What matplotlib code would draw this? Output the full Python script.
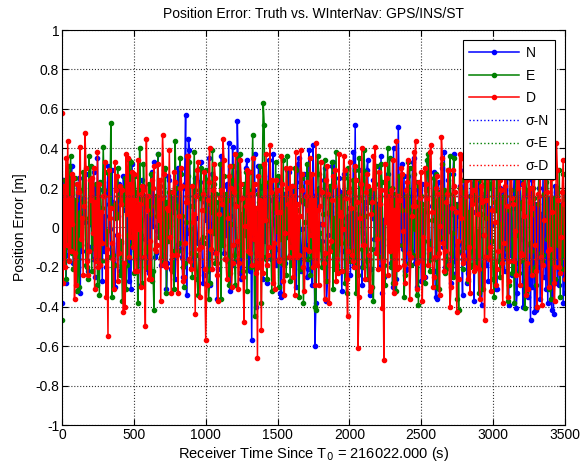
import matplotlib
matplotlib.use("Agg")
import matplotlib.pyplot as plt
import numpy as np

plt.rcParams['font.family'] = ['Liberation Sans', 'DejaVu Sans']

t_step = 20
# samples at t = 0, 20, 40, ...
err_N = [-0.38, 0.12, -0.05, 0.21, -0.18, 0.08, 0.25, -0.12, 0.03, -0.22, 0.15, 0.28, -0.08, 0.19, -0.27, 0.06, 0.31, -0.15, 0.11, -0.04,
         0.22, -0.19, 0.09, 0.27, -0.31, 0.05, 0.17, -0.11, 0.24, -0.06, 0.13, -0.24, 0.33, -0.02, 0.18, -0.14, 0.07, 0.26, -0.21, 0.10,
         -0.09, 0.29, -0.25, 0.57, 0.45, -0.17, 0.14, -0.07, 0.23, -0.28, 0.04, 0.35, -0.13, 0.16, -0.36, 0.09, 0.21, -0.04, 0.43, -0.19,
         0.12, 0.54, -0.23, 0.06, 0.30, -0.15, -0.57, 0.37, -0.08, 0.20, -0.26, 0.11, 0.34, -0.12, 0.02, 0.25, -0.33, 0.15, -0.05, 0.28,
         -0.18, 0.08, 0.32, -0.22, 0.13, -0.09, 0.39, -0.29, -0.60, 0.17, -0.11, 0.24, -0.37, 0.07, 0.31, -0.16, 0.19, -0.03, 0.27, -0.24,
         0.10, -0.14, 0.52, -0.20, 0.15, -0.07, 0.29, -0.34, 0.05, 0.22, -0.12, 0.36, -0.25, 0.09, 0.18, -0.30, 0.12, 0.51, -0.09, 0.26,
         -0.21, 0.04, 0.33, -0.15, 0.19, -0.27, 0.08, 0.30, -0.10, 0.14, -0.35, 0.23, -0.06, 0.38, -0.18, 0.11, 0.27, -0.23, 0.06, -0.13,
         0.29, -0.28, 0.16, 0.08, -0.17, 0.34, -0.39, 0.12, 0.21, -0.08, 0.25, -0.31, 0.03, 0.19, -0.22, 0.36, -0.14, 0.10, -0.41, 0.23,
         -0.06, 0.28, -0.35, -0.47, 0.15, -0.42, 0.20, -0.11, 0.31, -0.38, 0.07, -0.44, 0.18, -0.29, 0.12, -0.33]
err_E = [-0.47, 0.24, -0.10, 0.36, -0.21, 0.14, -0.30, 0.19, 0.05, -0.26, 0.31, -0.08, 0.22, -0.34, 0.10, 0.28, -0.15, 0.53, -0.19, 0.07,
         0.16, -0.37, 0.25, -0.04, 0.33, -0.23, 0.09, 0.40, -0.28, 0.13, -0.12, 0.27, -0.42, 0.06, 0.21, -0.17, 0.30, -0.07, 0.18, -0.31,
         0.11, 0.35, -0.20, 0.03, 0.26, -0.13, 0.38, -0.26, 0.15, -0.05, 0.29, -0.36, 0.08, 0.22, -0.18, 0.32, -0.09, 0.17, -0.29, 0.24,
         -0.14, 0.12, 0.37, -0.22, 0.28, -0.11, 0.19, -0.45, 0.07, 0.31, 0.63, -0.16, 0.23, -0.32, 0.10, 0.26, -0.06, 0.34, -0.24, 0.14,
         -0.19, 0.30, -0.03, 0.21, -0.38, 0.12, 0.27, -0.15, -0.40, 0.36, -0.10, 0.18, -0.27, 0.08, 0.33, -0.21, 0.15, -0.08, 0.25, -0.33,
         0.20, -0.12, 0.29, -0.24, 0.06, 0.39, -0.17, 0.13, -0.30, 0.22, -0.05, 0.32, -0.19, 0.10, 0.35, -0.28, 0.17, -0.09, 0.26, -0.35,
         0.09, 0.30, -0.14, 0.23, -0.39, 0.16, -0.07, 0.34, -0.22, 0.12, 0.27, -0.31, 0.05, 0.19, -0.16, 0.36, -0.25, 0.11, -0.42, 0.24,
         -0.10, 0.31, -0.20, 0.14, 0.28, -0.33, 0.07, 0.22, -0.15, 0.38, -0.26, 0.09, 0.33, -0.18, 0.16, -0.37, 0.25, -0.06, 0.30, -0.23,
         0.13, -0.41, 0.27, -0.12, 0.20, -0.29, 0.34, -0.17, 0.08, 0.26, -0.36, 0.15, -0.08, 0.29, -0.21, 0.18]
err_D = [0.58, -0.20, 0.44, -0.12, 0.25, -0.29, 0.18, 0.05, 0.48, -0.24, 0.14, 0.30, -0.17, 0.22, -0.08, 0.33, -0.55, 0.10, -0.31, 0.26,
         -0.13, 0.19, -0.40, 0.35, -0.05, 0.27, -0.22, 0.12, 0.21, -0.50, 0.16, -0.26, 0.31, -0.09, 0.24, 0.47, -0.18, 0.09, -0.33, 0.28,
         -0.14, 0.20, -0.27, 0.13, 0.36, -0.21, 0.07, 0.29, -0.35, 0.17, -0.57, 0.23, -0.11, 0.32, -0.24, 0.15, 0.45, -0.16, 0.26, -0.30,
         0.18, -0.07, 0.34, -0.25, 0.11, 0.28, -0.19, 0.22, -0.66, 0.14, -0.23, 0.37, -0.10, 0.24, -0.31, 0.19, 0.08, -0.27, 0.30, -0.15,
         0.21, -0.34, 0.12, 0.39, -0.20, 0.16, -0.12, 0.27, -0.29, 0.09, 0.33, -0.18, 0.24, -0.38, 0.14, 0.29, -0.23, 0.06, 0.36, -0.26,
         0.18, -0.14, 0.31, -0.61, 0.22, -0.09, 0.27, -0.32, 0.13, 0.41, -0.21, 0.19, -0.67, 0.25, -0.12, 0.34, -0.28, 0.16, 0.30, -0.19,
         0.23, -0.36, 0.11, 0.44, -0.17, 0.28, -0.25, 0.15, 0.38, -0.30, 0.20, -0.13, 0.46, -0.22, 0.17, -0.40, 0.29, 0.08, -0.26, 0.35,
         -0.16, 0.24, -0.33, 0.19, 0.42, -0.21, 0.13, -0.47, 0.31, -0.10, 0.26, -0.29, 0.40, -0.18, 0.21, -0.35, 0.33, 0.12, -0.24, 0.45,
         -0.14, 0.27, -0.31, 0.20, 0.38, -0.22, 0.16, -0.39, 0.30, -0.12, 0.25, -0.28, 0.43, -0.20, 0.18, -0.26]
# samples at t = 7, 27, 47, ...
err_N_b = [0.24, -0.28, 0.10, 0.31, -0.16, 0.22, -0.33, 0.14, 0.27, -0.10, 0.19, -0.25, 0.35, -0.07, 0.23, -0.20, 0.12, 0.29, -0.30, 0.16,
           -0.22, 0.26, 0.09, -0.27, 0.32, -0.12, 0.18, -0.29, 0.21, 0.06, -0.23, 0.28, -0.15, 0.37, -0.19, 0.13, -0.31, 0.24, 0.08, -0.26,
           0.30, -0.11, 0.20, -0.34, 0.39, -0.18, 0.25, -0.08, 0.33, -0.24, 0.15, -0.29, 0.27, 0.04, -0.21, 0.36, -0.13, 0.22, -0.32, 0.41,
           -0.17, 0.28, -0.26, 0.10, 0.34, -0.22, 0.19, -0.40, 0.31, -0.09, 0.26, -0.28, 0.14, 0.37, -0.19, 0.23, -0.35, 0.17, 0.29, -0.14,
           0.21, -0.30, 0.35, -0.12, 0.27, -0.25, 0.16, 0.42, -0.38, 0.20, -0.07, 0.30, -0.27, 0.12, 0.33, -0.20, 0.25, -0.32, 0.18, 0.06,
           -0.24, 0.38, -0.16, 0.29, -0.29, 0.13, 0.34, -0.21, 0.24, -0.11, 0.31, -0.33, 0.19, 0.27, -0.18, 0.40, -0.26, 0.15, 0.32, -0.22,
           0.26, -0.12, 0.35, -0.30, 0.17, 0.22, -0.25, 0.33, -0.15, 0.28, -0.36, 0.11, 0.30, -0.20, 0.24, -0.28, 0.37, -0.09, 0.21, -0.34,
           0.18, -0.23, 0.29, -0.37, 0.14, 0.32, -0.19, 0.25, -0.27, 0.09, 0.35, -0.31, 0.20, -0.16, 0.27, -0.39, 0.13, 0.30, -0.33, 0.22,
           -0.40, 0.17, -0.29, 0.24, -0.43, 0.10, -0.36, 0.26, -0.31, 0.15, -0.42, 0.21, -0.27, 0.08, -0.38]
err_E_b = [0.19, -0.26, 0.31, -0.13, 0.25, -0.32, 0.08, 0.28, -0.19, 0.36, -0.22, 0.14, -0.29, 0.23, 0.41, -0.17, 0.27, -0.35, 0.12, 0.30,
           -0.24, 0.20, -0.31, 0.34, -0.09, 0.26, -0.38, 0.15, 0.32, -0.20, 0.22, -0.27, 0.11, 0.37, -0.15, 0.29, -0.33, 0.18, -0.22, 0.44,
           -0.12, 0.27, -0.30, 0.21, 0.33, -0.25, 0.16, -0.34, 0.30, -0.08, 0.24, -0.28, 0.39, -0.18, 0.13, -0.36, 0.26, 0.07, -0.23, 0.31,
           -0.29, 0.35, -0.14, 0.22, -0.32, 0.28, 0.47, -0.21, 0.17, -0.38, 0.52, -0.26, 0.19, -0.11, 0.33, -0.30, 0.23, -0.19, 0.36, -0.27,
           0.14, 0.29, -0.35, 0.25, -0.16, 0.32, -0.24, 0.10, -0.42, 0.27, -0.20, 0.34, -0.13, 0.21, -0.31, 0.38, -0.22, 0.16, -0.28, 0.30,
           -0.17, 0.24, -0.33, 0.35, -0.11, 0.28, -0.26, 0.19, -0.37, 0.31, -0.15, 0.23, -0.29, 0.40, -0.20, 0.14, -0.32, 0.26, 0.09, -0.24,
           0.33, -0.19, 0.27, -0.34, 0.21, 0.12, -0.28, 0.37, -0.16, 0.25, -0.30, 0.18, 0.32, -0.23, 0.29, -0.13, 0.35, -0.36, 0.20, -0.21,
           0.28, -0.27, 0.16, 0.39, -0.18, 0.24, -0.31, 0.30, -0.10, 0.22, -0.35, 0.34, -0.25, 0.13, 0.27, -0.29, 0.19, -0.38, 0.31, -0.17,
           0.25, -0.33, 0.36, -0.22, 0.15, -0.40, 0.29, -0.14, 0.23, -0.31, 0.33, -0.26, 0.20, -0.35, 0.27]
err_D_b = [-0.28, 0.35, -0.17, 0.27, -0.36, 0.22, 0.41, -0.24, 0.30, -0.12, 0.25, -0.31, 0.38, -0.19, 0.16, -0.35, 0.29, -0.08, 0.33, -0.27,
           0.21, -0.43, 0.37, -0.15, 0.28, -0.22, 0.34, -0.30, 0.19, 0.45, -0.26, 0.24, -0.11, 0.32, -0.37, 0.27, -0.20, 0.39, -0.14, 0.23,
           -0.33, 0.30, -0.25, 0.36, -0.16, 0.21, -0.44, 0.33, -0.10, 0.28, -0.29, 0.40, -0.21, 0.25, -0.37, 0.19, 0.34, -0.26, 0.31, -0.18,
           0.37, -0.31, 0.22, -0.48, 0.29, -0.13, 0.35, -0.23, 0.26, -0.52, 0.32, -0.19, 0.42, -0.28, 0.24, -0.16, 0.36, -0.34, 0.20, 0.30,
           -0.25, 0.38, -0.14, 0.27, -0.32, 0.23, 0.35, -0.20, 0.43, -0.29, 0.18, -0.36, 0.31, -0.12, 0.26, -0.27, 0.37, -0.22, 0.29, -0.45,
           0.33, -0.17, 0.24, -0.35, 0.40, -0.26, 0.21, -0.30, 0.36, -0.13, 0.28, -0.41, 0.32, -0.24, 0.19, -0.33, 0.44, -0.20, 0.27, -0.28,
           0.34, -0.15, 0.38, -0.31, 0.23, -0.37, 0.30, -0.19, 0.42, -0.25, 0.26, -0.34, 0.35, -0.12, 0.29, -0.30, 0.21, -0.43, 0.37, -0.18,
           0.31, -0.26, 0.40, -0.22, 0.25, -0.36, 0.33, -0.15, 0.28, -0.32, 0.44, -0.21, 0.24, -0.38, 0.35, -0.27, 0.30, -0.17, 0.39, -0.29,
           0.22, -0.34, 0.36, -0.24, 0.27, -0.40, 0.32, -0.19, 0.41, -0.30, 0.25, -0.37, 0.29, -0.23, 0.34]
# samples at t = 13, 33, 53, ...
err_N_c = [0.05, -0.14, 0.18, -0.02, 0.11, -0.20, 0.07, 0.15, -0.09, 0.02, -0.16, 0.21, -0.05, 0.09, -0.12, 0.17, -0.01, 0.13, -0.19, 0.06,
           -0.08, 0.14, -0.17, 0.03, 0.20, -0.11, 0.08, -0.04, 0.16, -0.21, 0.10, 0.01, -0.13, 0.19, -0.06, 0.12, -0.18, 0.04, 0.15, -0.10,
           0.07, -0.15, 0.22, -0.03, 0.11, -0.19, 0.05, 0.17, -0.08, 0.13, -0.22, 0.02, 0.18, -0.12, 0.09, -0.05, 0.16, -0.17, 0.06, 0.20,
           -0.09, 0.14, -0.02, 0.10, -0.20, 0.07, 0.19, -0.13, 0.03, 0.15, -0.07, 0.21, -0.16, 0.08, -0.11, 0.12, 0.04, -0.18, 0.17, -0.06,
           0.09, -0.14, 0.23, -0.01, 0.13, -0.21, 0.06, 0.16, -0.10, 0.02, -0.17, 0.19, -0.04, 0.11, -0.15, 0.08, 0.18, -0.12, 0.05, -0.08,
           0.14, -0.19, 0.07, 0.21, -0.03, 0.10, -0.16, 0.15, -0.06, 0.12, -0.20, 0.04, 0.17, -0.09, 0.13, -0.14, 0.01, 0.19, -0.11, 0.08,
           -0.05, 0.16, -0.18, 0.09, 0.03, -0.13, 0.20, -0.07, 0.11, -0.22, 0.06, 0.14, -0.10, 0.18, -0.02, 0.07, -0.17, 0.12, -0.08, 0.15,
           -0.15, 0.05, 0.22, -0.12, 0.09, -0.04, 0.17, -0.19, 0.10, 0.02, -0.21, 0.13, -0.06, 0.18, -0.14, 0.08, -0.24, 0.11, -0.18, 0.04,
           -0.27, 0.16, -0.09, -0.30, 0.12, -0.20, 0.07, -0.25, 0.14, -0.16, 0.03, -0.28, 0.10, -0.12, 0.06]
err_E_c = [-0.12, 0.10, -0.04, 0.17, -0.15, 0.06, -0.09, 0.13, -0.20, 0.03, 0.15, -0.11, 0.08, -0.17, 0.19, -0.02, 0.11, -0.14, 0.05, 0.16,
           -0.07, 0.12, -0.19, 0.09, -0.03, 0.18, -0.13, 0.04, 0.14, -0.10, 0.07, -0.22, 0.16, -0.05, 0.10, -0.16, 0.13, 0.01, -0.12, 0.20,
           -0.08, 0.06, -0.18, 0.15, -0.01, 0.11, -0.14, 0.19, -0.06, 0.09, -0.21, 0.12, -0.03, 0.17, -0.11, 0.05, -0.16, 0.14, 0.02, -0.09,
           0.18, -0.13, 0.07, -0.04, 0.16, -0.20, 0.10, -0.07, 0.13, 0.21, -0.15, 0.04, -0.10, 0.17, -0.02, 0.12, -0.18, 0.08, -0.05, 0.15,
           -0.12, 0.09, -0.21, 0.14, 0.03, -0.16, 0.11, -0.08, 0.19, -0.03, 0.07, -0.14, 0.16, -0.10, 0.05, -0.19, 0.13, 0.01, -0.07, 0.18,
           -0.15, 0.10, -0.02, 0.14, -0.20, 0.06, 0.17, -0.11, 0.08, -0.04, 0.15, -0.17, 0.12, -0.06, 0.20, -0.13, 0.03, 0.11, -0.09, 0.16,
           -0.18, 0.07, -0.01, 0.13, -0.14, 0.09, 0.19, -0.08, 0.04, -0.16, 0.14, -0.05, 0.10, -0.21, 0.17, -0.03, 0.12, -0.12, 0.06, 0.18,
           -0.10, 0.08, -0.19, 0.15, -0.02, 0.11, -0.15, 0.05, 0.20, -0.07, 0.13, -0.17, 0.02, 0.16, -0.11, 0.09, -0.23, 0.14, -0.04, 0.10,
           -0.16, 0.19, -0.08, 0.07, -0.20, 0.12, -0.13, 0.17, -0.06, 0.04, -0.18, 0.15, -0.09, 0.11, -0.14]
err_D_c = [0.21, -0.09, 0.15, 0.02, -0.13, 0.18, -0.06, 0.11, -0.17, 0.24, -0.03, 0.13, -0.20, 0.08, 0.16, -0.11, 0.05, -0.16, 0.19, -0.04,
           0.12, -0.18, 0.07, 0.22, -0.10, 0.14, -0.01, 0.17, -0.15, 0.09, -0.07, 0.20, -0.12, 0.04, 0.15, -0.19, 0.10, -0.05, 0.18, -0.14,
           0.06, 0.21, -0.08, 0.13, -0.17, 0.03, 0.16, -0.11, 0.09, -0.21, 0.14, -0.02, 0.19, -0.13, 0.07, 0.12, -0.16, 0.05, 0.20, -0.09,
           0.11, -0.18, 0.15, 0.01, -0.12, 0.17, -0.06, 0.10, -0.20, 0.13, 0.04, -0.14, 0.18, -0.08, 0.08, -0.17, 0.22, -0.03, 0.12, -0.10,
           0.16, -0.15, 0.06, 0.19, -0.11, 0.09, -0.04, 0.14, -0.19, 0.11, 0.02, -0.13, 0.17, -0.07, 0.21, -0.16, 0.08, -0.01, 0.15, -0.12,
           0.10, -0.20, 0.13, 0.05, -0.09, 0.18, -0.14, 0.07, 0.20, -0.06, 0.12, -0.17, 0.03, 0.16, -0.10, 0.09, -0.21, 0.14, -0.02, 0.19,
           -0.13, 0.06, 0.11, -0.18, 0.15, -0.05, 0.22, -0.11, 0.08, -0.15, 0.17, 0.01, -0.08, 0.13, -0.19, 0.10, 0.18, -0.07, 0.05, -0.14,
           0.16, -0.10, 0.12, -0.20, 0.07, 0.21, -0.04, 0.14, -0.16, 0.09, 0.03, -0.12, 0.19, -0.08, 0.11, -0.17, 0.15, -0.02, 0.20, -0.13,
           0.06, -0.18, 0.13, 0.10, -0.09, 0.17, -0.15, 0.04, 0.18, -0.11, 0.08, -0.20, 0.14, -0.05, 0.12]
sigma_N = 0.16
sigma_E = 0.16
sigma_D = 0.16
x_ticks = [0, 500, 1000, 1500, 2000, 2500, 3000, 3500]
y_ticks = [-1, -0.8, -0.6, -0.4, -0.2, 0, 0.2, 0.4, 0.6, 0.8, 1]
y_labels = ['-1', '-0.8', '-0.6', '-0.4', '-0.2', '0', '0.2', '0.4', '0.6', '0.8', '1']


def merged(a, b, c):
    ta = np.arange(len(a)) * t_step
    tb = 7 + np.arange(len(b)) * t_step
    tc = 13 + np.arange(len(c)) * t_step
    tt = np.concatenate([ta, tb, tc])
    vv = np.concatenate([a, b, c])
    order = np.argsort(tt, kind='stable')
    return tt[order], vv[order]


fig = plt.figure(figsize=(5.81, 4.69), dpi=100)
ax = fig.add_axes([62/581, 44/469, 503/581, 395/469])

blue, green, red = '#0000ff', '#008000', '#ff0000'
kw = dict(marker='.', markersize=6, linewidth=1.1)
tN, vN = merged(err_N, err_N_b, err_N_c)
tE, vE = merged(err_E, err_E_b, err_E_c)
tD, vD = merged(err_D, err_D_b, err_D_c)
ax.plot(tN, vN, color=blue, label='N', **kw)
ax.plot(tE, vE, color=green, label='E', **kw)
ax.plot(tD, vD, color=red, label='D', **kw)
span = [0, tD[-1]]
for s, c, name in [(sigma_N, blue, 'σ-N'), (sigma_E, green, 'σ-E'), (sigma_D, red, 'σ-D')]:
    ax.plot(span, [s, s], color=c, linestyle=':', linewidth=1.0, label=name)
    ax.plot(span, [-s, -s], color=c, linestyle=':', linewidth=1.0)

ax.set_xlim(0, 3500)
ax.set_ylim(-1, 1)
ax.set_xticks(x_ticks)
ax.set_xticklabels([str(v) for v in x_ticks])
ax.set_yticks(y_ticks)
ax.set_yticklabels(y_labels)
ax.tick_params(direction='in', top=True, right=True, length=4, labelsize=10, pad=2)
ax.grid(True, linestyle=':', color='#333333', linewidth=0.8)
for sp in ax.spines.values():
    sp.set_linewidth(0.8)

ax.set_title('Position Error: Truth vs. WInterNav: GPS/INS/ST', fontsize=10, pad=9)
ax.set_xlabel('Receiver Time Since T$_0$ = 216022.000 (s)', fontsize=10.5, labelpad=2)
ax.set_ylabel('Position Error [m]', fontsize=10, labelpad=6)

leg = ax.legend(loc='upper right', fontsize=10, frameon=True, fancybox=False,
                edgecolor='black', framealpha=1, handlelength=3.6,
                borderaxespad=0.7, labelspacing=0.62, handletextpad=0.5,
                borderpad=0.45)
leg.get_frame().set_linewidth(0.8)

fig.savefig('out.png', dpi=100)
